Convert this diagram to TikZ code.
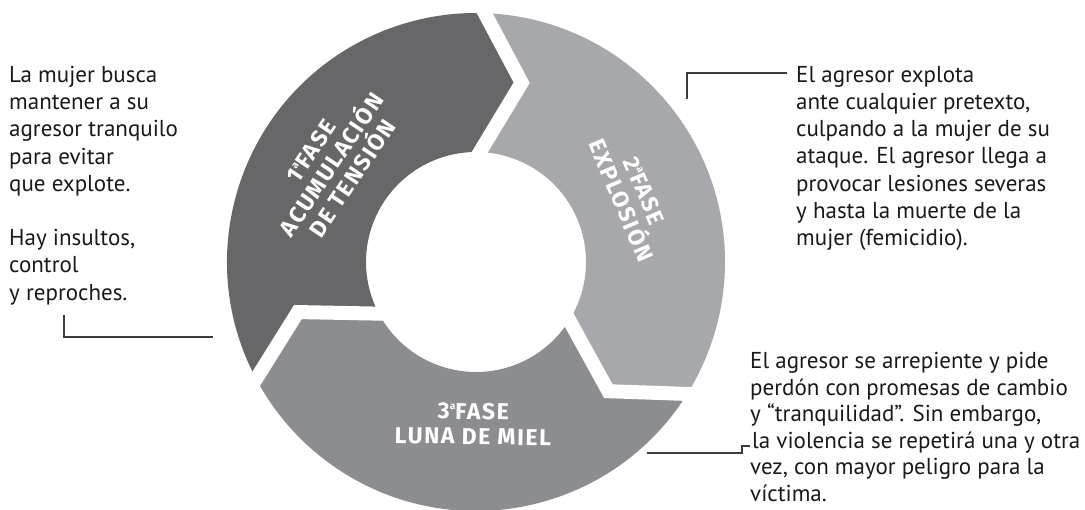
\documentclass[tikz,border=0pt]{standalone}
\usepackage{fontspec}
\setmainfont{PT Sans}
\newfontfamily\labfam[LetterSpace=7.0]{Fira Sans}
\usetikzlibrary{calc}
\definecolor{segA}{RGB}{103,103,106}
\definecolor{segB}{RGB}{167,168,172}
\definecolor{segC}{RGB}{140,141,145}
\definecolor{leadcol}{RGB}{60,60,60}
\def\Ro{249}
\def\Ri{110}
\def\Rm{185}
\def\dt{12.3}
\newcommand\ordA{\raisebox{0.42em}{\fontsize{10}{10}\selectfont a}}
\newcommand\ringseg[3]{%
  \fill[#1] ($(C)+(#2:\Ro)$) arc[start angle=#2, end angle=#3, radius=\Ro]
    -- ($(C)+(#3-\dt:\Rm)$) -- ($(C)+(#3:\Ri)$)
    arc[start angle=#3, end angle=#2, radius=\Ri]
    -- ($(C)+(#2-\dt:\Rm)$) -- cycle;}
\newcommand\ringgap[1]{%
  \draw[white, line width=14pt, line join=miter, shorten <=-10pt, shorten >=-10pt]
    ($(C)+(#1:\Ro)$) -- ($(C)+(#1-\dt:\Rm)$) -- ($(C)+(#1:\Ri)$);}
\begin{document}
\begin{tikzpicture}[x=1pt,y=1pt,
  lab/.style={text=white, inner sep=0, align=center,
    font=\labfam\bfseries\fontsize{23}{25}\selectfont},
  body/.style={anchor=north west, inner sep=0, align=left, text=black!90,
    font=\fontsize{23}{27.2}\selectfont},
  bodybig/.style={anchor=north west, inner sep=0, align=left, text=black!90,
    font=\fontsize{23}{26.6}\selectfont},
  leader/.style={draw=leadcol, line width=1.1pt}]
\useasboundingbox (0,0) rectangle (1085,-510);
\coordinate (C) at (476,-262);
% ring segments
\ringseg{segA}{208}{88}
\ringseg{segB}{88}{-32}
\ringseg{segC}{-32}{-152}
\ringgap{88}
\ringgap{-32}
\ringgap{208}
% segment labels
\node[lab, rotate=56] (l1) at ($(C)+(146:174)$) {1\ordA FASE\\ACUMULACIÓN\\DE TENSIÓN};
\node[lab, rotate=-67] (l2) at ($(C)+(23:170)$) {2\ordA FASE\\EXPLOSIÓN};
\node[lab, rotate=-1] (l3) at ($(C)+(-91:162)$) {3\ordA FASE\\LUNA DE MIEL};
% text blocks
\node[body] (t1) at (9,-66) {La mujer busca\\mantener a su\\agresor tranquilo\\para evitar\\que explote.\\[27.2pt]Hay insultos,\\control\\y reproches.};
\node[body] (t2) at (796,-66) {El agresor explota\\ante cualquier pretexto,\\culpando a la mujer de su\\ataque. El agresor llega a\\provocar lesiones severas\\y hasta la muerte de la\\mujer (femicidio).};
\node[bodybig] (t3) at (750,-352) {El agresor se arrepiente y pide\\perdón con promesas de cambio\\y “tranquilidad”. Sin embargo,\\\hspace*{2pt}la violencia se repetirá una y otra\\vez, con mayor peligro para la\\víctima.};
% leaders
\coordinate (a1) at (64,-315);
\coordinate (a2) at (213,-337);
\draw[leader] (a1) |- (a2);
\coordinate (b1) at (687,-99);
\coordinate (b2) at (787,-73);
\draw[leader] (b1) |- (b2);
\coordinate (c1) at (647,-453);
\coordinate (c2) at (742,-453);
\coordinate (c3) at (742,-446);
\coordinate (c4) at (750,-446);
\draw[leader] (c1) -- (c2) -- (c3) -- (c4);
\end{tikzpicture}
\end{document}
